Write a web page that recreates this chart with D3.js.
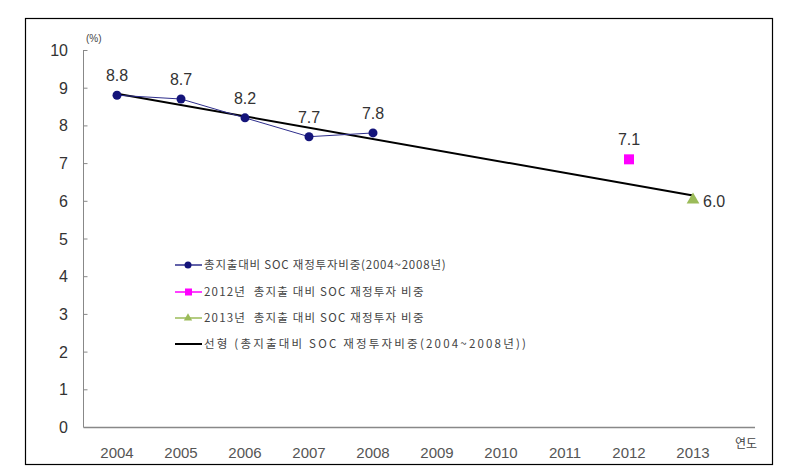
<!DOCTYPE html>
<html>
<head>
<meta charset="utf-8">
<script src="https://d3js.org/d3.v7.min.js"></script>
<style>
  body { margin: 0; background: #fff; }
  text { font-family: "Liberation Sans", Arial, sans-serif; }
  .kr { font-family: "Noto Sans CJK KR", sans-serif; }
</style>
</head>
<body>
<div id="chart"></div>
<script>
// categories and values
var years = ["2004", "2005", "2006", "2007", "2008", "2009", "2010", "2011", "2012", "2013"];
var yTicks = [0, 1, 2, 3, 4, 5, 6, 7, 8, 9, 10];
var socShare = [
  { year: "2004", value: 8.8 },
  { year: "2005", value: 8.7 },
  { year: "2006", value: 8.2 },
  { year: "2007", value: 7.7 },
  { year: "2008", value: 7.8 }
];
var share2012 = [{ year: "2012", value: 7.1 }];
var share2013 = [{ year: "2013", value: 6.0 }];
// linear trend of 2004-2008, read at its two ends
var trend = [
  { year: "2004", value: 8.84 },
  { year: "2013", value: 6.14 }
];
var legendLabels = [
  "총지출대비 SOC 재정투자비중(2004~2008년)",
  "2012년  총지출 대비 SOC 재정투자 비중",
  "2013년  총지출 대비 SOC 재정투자 비중",
  "선형 (총지출대비 SOC 재정투자비중(2004~2008년))"
];

var W = 812, H = 474;
var svg = d3.select("#chart").append("svg")
  .attr("width", W).attr("height", H);

// outer frame
svg.append("rect")
  .attr("x", 25.5).attr("y", 18.5)
  .attr("width", 747).attr("height", 446)
  .attr("fill", "none").attr("stroke", "#000").attr("stroke-width", 1.2);

var x = d3.scaleBand().domain(years).range([85, 725]);
var y = d3.scaleLinear().domain([0, 10]).range([427, 50]);
var cx = function (d) { return x(d.year) + x.bandwidth() / 2; };

// y axis
var yAxis = svg.append("g")
  .attr("transform", "translate(83.5,0)")
  .call(d3.axisRight(y).tickValues(yTicks).tickSize(4).tickFormat(""));
yAxis.select(".domain").attr("stroke", "#888").attr("d", "M0," + y(10) + "V" + y(0));
yAxis.selectAll(".tick line").attr("stroke", "#888");

svg.selectAll(".ylab").data(yTicks).enter().append("text")
  .attr("class", "ylab")
  .attr("x", 68).attr("y", function (d) { return y(d) + 6; })
  .attr("text-anchor", "end")
  .attr("font-size", 16).attr("fill", "#333")
  .text(function (d) { return d; });

// x axis
svg.append("line")
  .attr("x1", 83.5).attr("x2", 755)
  .attr("y1", y(0) + 0.5).attr("y2", y(0) + 0.5)
  .attr("stroke", "#888").attr("stroke-width", 1.5);

var xAxis = svg.append("g")
  .attr("transform", "translate(0," + (y(0) + 17) + ")")
  .call(d3.axisBottom(x).tickSize(0));
xAxis.select(".domain").remove();
xAxis.selectAll("text")
  .attr("font-size", 15).attr("fill", "#555")
  .attr("font-family", "DejaVu Sans, sans-serif");

svg.append("text").attr("class", "kr")
  .attr("x", 735).attr("y", 448)
  .attr("font-size", 12).attr("fill", "#444")
  .text("연도");
svg.append("text")
  .attr("x", 86).attr("y", 42)
  .attr("font-size", 10).attr("fill", "#444")
  .text("(%)");

// trend line
var line = d3.line().x(cx).y(function (d) { return y(d.value); });
svg.append("path").datum(trend)
  .attr("fill", "none").attr("stroke", "#000").attr("stroke-width", 2)
  .attr("d", line);

// 2004-2008 series
svg.append("path").datum(socShare)
  .attr("fill", "none").attr("stroke", "#2e2e8c").attr("stroke-width", 1)
  .attr("d", line);
svg.selectAll(".pt").data(socShare).enter().append("circle")
  .attr("cx", cx).attr("cy", function (d) { return y(d.value); })
  .attr("r", 4.5).attr("fill", "#14147a");

// 2012
svg.selectAll(".sq").data(share2012).enter().append("rect")
  .attr("x", function (d) { return cx(d) - 5; })
  .attr("y", function (d) { return y(d.value) - 5; })
  .attr("width", 10).attr("height", 10).attr("fill", "#ff00ff");

// 2013
var tri = d3.symbol().type(d3.symbolTriangle).size(70);
svg.selectAll(".tri").data(share2013).enter().append("path")
  .attr("transform", function (d) { return "translate(" + cx(d) + "," + (y(d.value) - 1) + ")"; })
  .attr("d", tri).attr("fill", "#9bbb59");

// value labels
svg.selectAll(".vl").data(socShare.concat(share2012)).enter().append("text")
  .attr("x", cx).attr("y", function (d) { return y(d.value) - 14; })
  .attr("text-anchor", "middle").attr("font-size", 16).attr("fill", "#333")
  .text(function (d) { return d.value.toFixed(1); });
svg.selectAll(".vl2").data(share2013).enter().append("text")
  .attr("x", function (d) { return cx(d) + 10; })
  .attr("y", function (d) { return y(d.value) + 6; })
  .attr("font-size", 16).attr("fill", "#333")
  .text(function (d) { return d.value.toFixed(1); });

// legend
var legY = [265, 292, 318, 344];
var legSpacing = [0.8, 1.2, 1.2, 2.2];
var lx1 = 175, lx2 = 202;
var leg = svg.selectAll(".leg").data(legendLabels).enter().append("g")
  .attr("transform", function (d, i) { return "translate(0," + legY[i] + ")"; });
leg.append("line")
  .attr("x1", lx1).attr("x2", lx2)
  .attr("stroke", function (d, i) { return ["#2e2e8c", "#ff00ff", "#9bbb59", "#000"][i]; })
  .attr("stroke-width", function (d, i) { return i === 3 ? 2 : 1.5; });
leg.filter(function (d, i) { return i === 0; }).append("circle")
  .attr("cx", 188).attr("r", 3.5).attr("fill", "#14147a");
leg.filter(function (d, i) { return i === 1; }).append("rect")
  .attr("x", 185).attr("y", -3.5).attr("width", 7).attr("height", 7).attr("fill", "#ff00ff");
leg.filter(function (d, i) { return i === 2; }).append("path")
  .attr("transform", "translate(188,0)")
  .attr("d", d3.symbol().type(d3.symbolTriangle).size(30)).attr("fill", "#9bbb59");
leg.append("text").attr("class", "kr")
  .attr("x", 204).attr("y", 4)
  .attr("font-size", 11.5).attr("fill", "#444")
  .attr("letter-spacing", function (d, i) { return legSpacing[i]; })
  .style("white-space", "pre")
  .text(function (d) { return d; });
</script>
</body>
</html>
